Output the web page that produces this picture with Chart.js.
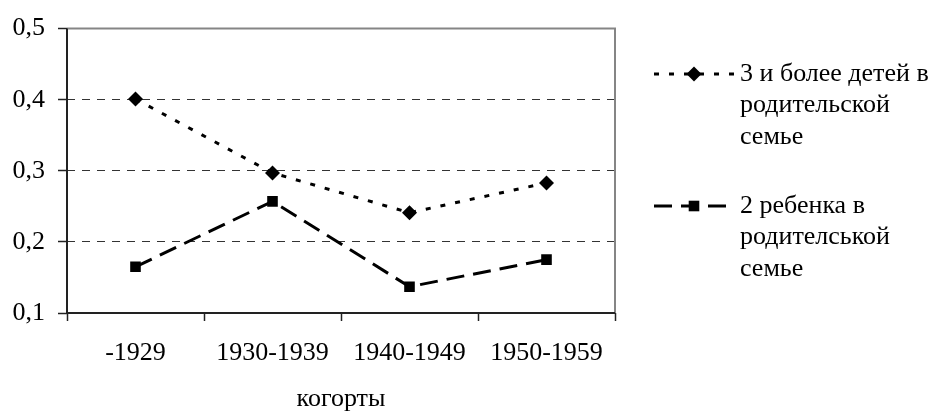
<!DOCTYPE html>
<html>
<head>
<meta charset="utf-8">
<script src="https://cdn.jsdelivr.net/npm/chart.js@4"></script>
<style>
  html, body { margin: 0; padding: 0; background: #fff; }
  #wrap { width: 936px; height: 412px; position: relative; }
</style>
</head>
<body>
<div id="wrap"><canvas id="chart"></canvas></div>
<script>
// categories and values
const cohorts = ["-1929", "1930-1939", "1940-1949", "1950-1959"];
const threePlusKids = [0.401, 0.297, 0.241, 0.283];
const twoKids = [0.165, 0.257, 0.137, 0.175];
const yMin = 0.1;
const yMax = 0.5;
const yStep = 0.1;
const xTitle = "когорты";
const legendThree = ["3 и более детей в", "родительской", "семье"];
const legendTwo = ["2 ребенка в", "родителськой", "семье"];

const FONT = "'Liberation Serif'";

// frame of the plot: gray top/right, dark left/bottom
const framePlugin = {
    id: "frame",
    beforeDatasetsDraw(chart) {
        const { ctx, chartArea: a } = chart;
        ctx.save();
        ctx.setLineDash([]);
        ctx.lineWidth = 2;
        ctx.strokeStyle = "#858585";
        ctx.beginPath();
        ctx.moveTo(a.left, a.top);
        ctx.lineTo(a.right, a.top);
        ctx.lineTo(a.right, a.bottom);
        ctx.stroke();
        ctx.strokeStyle = "#222";
        ctx.beginPath();
        ctx.moveTo(a.left, a.top);
        ctx.lineTo(a.left, a.bottom);
        ctx.lineTo(a.right, a.bottom);
        ctx.stroke();
        ctx.restore();
    }
};

// legend on the right with multi-line labels
const sideLegend = {
    id: "sideLegend",
    afterDraw(chart) {
        const ctx = chart.ctx;
        const items = [
            { ds: chart.data.datasets[0], lines: legendThree, y: 74 },
            { ds: chart.data.datasets[1], lines: legendTwo, y: 206 }
        ];
        ctx.save();
        items.forEach(item => {
            const ds = item.ds;
            ctx.strokeStyle = "#000";
            ctx.fillStyle = "#000";
            ctx.lineWidth = ds.borderWidth;
            ctx.setLineDash(ds.borderDash);
            ctx.beginPath();
            ctx.moveTo(654, item.y);
            ctx.lineTo(735, item.y);
            ctx.stroke();
            ctx.setLineDash([]);
            Chart.helpers.drawPoint(ctx, {
                pointStyle: ds.pointStyle,
                radius: ds.pointRadius,
                borderWidth: 0,
                rotation: 0
            }, 694, item.y);
            ctx.font = "26px " + FONT;
            ctx.textBaseline = "middle";
            ctx.textAlign = "left";
            item.lines.forEach((t, i) => ctx.fillText(t, 740, item.y + i * 31.5));
        });
        ctx.restore();
    }
};

function buildChart() {
    const ctx = document.getElementById("chart").getContext("2d");
    new Chart(ctx, {
        type: "line",
        data: {
            labels: cohorts,
            datasets: [
                {
                    label: legendThree.join(" "),
                    data: threePlusKids,
                    borderColor: "#000",
                    backgroundColor: "#000",
                    borderWidth: 3,
                    borderDash: [5, 10],
                    pointStyle: "rectRot",
                    pointRadius: 7.5,
                    pointBorderWidth: 0,
                    pointBackgroundColor: "#000",
                    tension: 0
                },
                {
                    label: legendTwo.join(" "),
                    data: twoKids,
                    borderColor: "#000",
                    backgroundColor: "#000",
                    borderWidth: 3,
                    borderDash: [18, 9],
                    pointStyle: "rect",
                    pointRadius: 7.5,
                    pointBorderWidth: 0,
                    pointBackgroundColor: "#000",
                    tension: 0
                }
            ]
        },
        options: {
            responsive: true,
            maintainAspectRatio: false,
            animation: false,
            layout: { padding: { top: 26, right: 321, left: 0, bottom: 0 } },
            plugins: {
                legend: { display: false },
                tooltip: { enabled: false }
            },
            scales: {
                x: {
                    offset: true,
                    grid: {
                        offset: true,
                        drawOnChartArea: false,
                        drawTicks: true,
                        tickLength: 8,
                        tickColor: "#222",
                        tickWidth: 1.5
                    },
                    border: { display: false },
                    ticks: {
                        color: "#000",
                        padding: 17,
                        maxRotation: 0,
                        autoSkip: false,
                        font: { family: FONT, size: 26 }
                    },
                    title: {
                        display: true,
                        text: xTitle,
                        color: "#000",
                        padding: { top: 0, bottom: 0 },
                        font: { family: FONT, size: 26, lineHeight: 1 }
                    },
                    afterFit(scale) { scale.height = 99; }
                },
                y: {
                    min: yMin,
                    max: yMax,
                    grid: {
                        color: c => (Math.abs(c.tick.value - yMin) < 1e-6 || Math.abs(c.tick.value - yMax) < 1e-6) ? "rgba(0,0,0,0)" : "#333",
                        lineWidth: 1,
                        tickLength: 9,
                        tickColor: "#222",
                        tickWidth: 1.5
                    },
                    border: { display: false, dash: [8, 7] },
                    ticks: {
                        stepSize: yStep,
                        color: "#000",
                        padding: 13,
                        font: { family: FONT, size: 26 },
                        callback: v => v.toFixed(1).replace(".", ",")
                    },
                    afterFit(scale) { scale.width = 67; }
                }
            }
        },
        plugins: [framePlugin, sideLegend]
    });
}

document.fonts.load("26px " + FONT, "0,5 когорты").then(buildChart, buildChart);
</script>
</body>
</html>
